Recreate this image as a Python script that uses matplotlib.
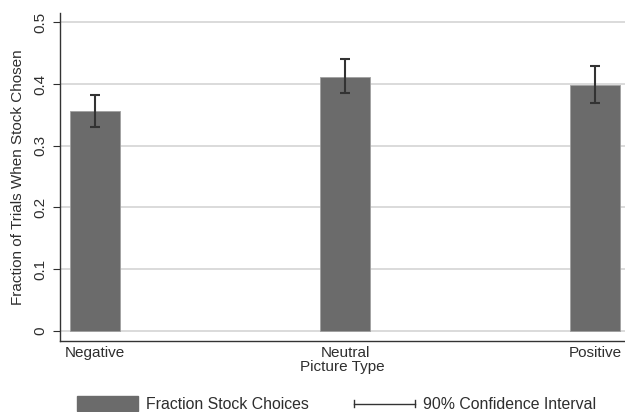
import matplotlib.pyplot as plt
from matplotlib.patches import Patch
from matplotlib.lines import Line2D
from matplotlib.legend_handler import HandlerBase

plt.rcParams["font.family"] = ["Liberation Sans", "DejaVu Sans"]

categories = ["Negative", "Neutral", "Positive"]
fractions = [0.356, 0.412, 0.399]
ci_low = [0.330, 0.385, 0.370]
ci_high = [0.383, 0.441, 0.429]
yticks = [0, 0.1, 0.2, 0.3, 0.4, 0.5]
ytick_labels = ["0", "0.1", "0.2", "0.3", "0.4", "0.5"]

bar_color = "#6b6b6b"
text_color = "#2e2e2e"


class CapLineHandler(HandlerBase):
    # horizontal line with small caps at both ends, like the CI key
    def create_artists(self, legend, orig_handle, xdescent, ydescent,
                       width, height, fontsize, trans):
        y = height / 2 - ydescent
        x0, x1 = -xdescent, width - xdescent
        line = Line2D([x0, x1], [y, y], color="#333333", linewidth=1.0,
                      transform=trans)
        c = height * 0.22
        cap0 = Line2D([x0, x0], [y - c, y + c], color="#333333",
                      linewidth=1.0, transform=trans)
        cap1 = Line2D([x1, x1], [y - c, y + c], color="#333333",
                      linewidth=1.0, transform=trans)
        return [line, cap0, cap1]


fig = plt.figure(figsize=(6.25, 4.12), dpi=100)
ax = fig.add_axes([0.096, 0.172, 0.904, 0.796])

x = list(range(len(categories)))
ax.bar(x, fractions, width=0.2, color=bar_color, edgecolor="#a0a0a0",
       linewidth=0.6, zorder=2)
err_lo = [f - l for f, l in zip(fractions, ci_low)]
err_hi = [h - f for f, h in zip(fractions, ci_high)]
ax.errorbar(x, fractions, yerr=[err_lo, err_hi], fmt="none", ecolor="#333333",
            elinewidth=1.5, capsize=3.3, capthick=1.5, zorder=3)

ax.set_xlim(-0.14, 2.12)
ax.set_ylim(-0.017, 0.515)
ax.set_yticks(yticks)
ax.set_yticklabels(ytick_labels, rotation=90, va="center")
ax.set_xticks(x)
ax.set_xticklabels(categories)
ax.tick_params(axis="x", length=0, pad=3.5, labelsize=11, colors=text_color)
ax.tick_params(axis="y", length=5, width=0.8, pad=4, labelsize=11,
               colors=text_color)
ax.yaxis.grid(True, color="#dadada", linewidth=1.4, zorder=0)
ax.set_axisbelow(True)
for s in ["top", "right"]:
    ax.spines[s].set_visible(False)
for s in ["left", "bottom"]:
    ax.spines[s].set_color("#333333")
    ax.spines[s].set_linewidth(1.0)

ax.set_ylabel("Fraction of Trials When Stock Chosen", fontsize=11,
              color=text_color, labelpad=6)
ax.set_xlabel("Picture Type", fontsize=11, color=text_color, labelpad=0)

handles = [Patch(facecolor=bar_color, edgecolor=bar_color), "ci"]
fig.legend(handles, ["Fraction Stock Choices", "90% Confidence Interval"],
           handler_map={str: CapLineHandler()},
           loc="center left", bbox_to_anchor=(0.110, 0.019), ncol=2,
           frameon=False, fontsize=11.4, handlelength=3.85, handleheight=1.0,
           handletextpad=0.5, columnspacing=2.9, borderpad=0,
           labelcolor=text_color)

fig.savefig("out.png", dpi=100)
